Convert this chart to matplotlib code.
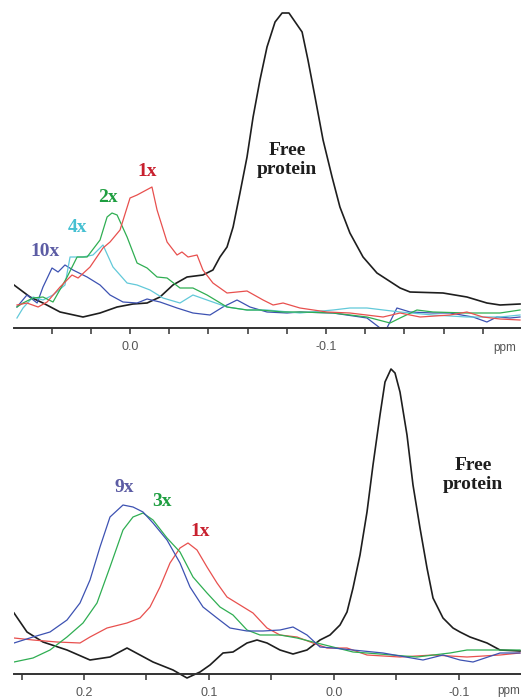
import matplotlib
matplotlib.use("Agg")
import matplotlib.pyplot as plt

# ---- top spectrum (ppm, intensity a.u.) ----
top_free_ppm = [0.0592, 0.0510, 0.0444, 0.0357, 0.0240, 0.0153, 0.0066, -0.0015, -0.0087, -0.0153,
                -0.0219, -0.0291, -0.0372, -0.0423, -0.0459, -0.0495, -0.0526, -0.0561, -0.0597, -0.0628,
                -0.0663, -0.0699, -0.0740, -0.0776, -0.0811, -0.0878, -0.0908, -0.0944, -0.0985, -0.1031,
                -0.1071, -0.1122, -0.1189, -0.1260, -0.1378, -0.1429, -0.1597, -0.1719, -0.1821, -0.1888,
                -0.1990]
top_free = [43, 31, 25, 16, 11, 15, 21, 24, 25, 31,
            43, 51, 53, 58, 71, 81, 101, 135, 171, 211,
            248, 281, 306, 315, 315, 296, 268, 231, 188, 151,
            121, 95, 71, 55, 40, 36, 35, 31, 25, 23,
            24]

top_1x_ppm = [0.0577, 0.0526, 0.0469, 0.0423, 0.0357, 0.0296, 0.0265, 0.0204, 0.0138, 0.0102,
              0.0051, 0.0, -0.0036, -0.0112, -0.0138, -0.0189, -0.0240, -0.0265, -0.0296, -0.0342,
              -0.0372, -0.0423, -0.0495, -0.0597, -0.0679, -0.0730, -0.0781, -0.0867, -0.1005, -0.1122,
              -0.1291, -0.1378, -0.1480, -0.1633, -0.1719, -0.1801, -0.1888, -0.1990]
top_1x = [23, 25, 21, 26, 41, 53, 50, 61, 80, 86,
          98, 130, 133, 141, 118, 86, 73, 76, 71, 73,
          58, 45, 35, 37, 28, 23, 25, 20, 16, 15,
          11, 15, 11, 13, 16, 11, 9, 8]

top_2x_ppm = [0.0577, 0.0546, 0.0495, 0.0444, 0.0393, 0.0321, 0.0270, 0.0219, 0.0153, 0.0117,
              0.0092, 0.0066, 0.0015, -0.0036, -0.0087, -0.0138, -0.0189, -0.0255, -0.0321, -0.0393,
              -0.0495, -0.0597, -0.0663, -0.0781, -0.0867, -0.1036, -0.1209, -0.1327, -0.1378, -0.1464,
              -0.1546, -0.1719, -0.1888, -0.1990]
top_2x = [21, 25, 30, 31, 26, 51, 71, 71, 88, 111,
          115, 113, 91, 65, 60, 51, 50, 40, 40, 33,
          21, 18, 18, 16, 16, 15, 11, 5, 10, 18,
          16, 15, 15, 18]

top_4x_ppm = [0.0577, 0.0546, 0.0495, 0.0444, 0.0393, 0.0332, 0.0306, 0.0240, 0.0189, 0.0138,
              0.0087, 0.0015, -0.0036, -0.0102, -0.0168, -0.0255, -0.0321, -0.0393, -0.0495, -0.0597,
              -0.0699, -0.0867, -0.1036, -0.1122, -0.1209, -0.1378, -0.1546, -0.1719, -0.1888, -0.1990]
top_4x = [10, 20, 31, 28, 33, 43, 71, 71, 73, 83,
          61, 45, 43, 38, 30, 25, 33, 28, 21, 18,
          18, 15, 18, 20, 20, 16, 13, 11, 11, 13]

top_10x_ppm = [0.0577, 0.0526, 0.0474, 0.0444, 0.0398, 0.0367, 0.0332, 0.0291, 0.0219, 0.0153,
               0.0102, 0.0036, -0.0036, -0.0087, -0.0153, -0.0240, -0.0321, -0.0408, -0.0474, -0.0546,
               -0.0612, -0.0699, -0.0801, -0.0867, -0.1036, -0.1209, -0.1276, -0.1311, -0.1362, -0.1429,
               -0.1546, -0.1633, -0.1750, -0.1821, -0.1872, -0.1939, -0.1990]
top_10x = [21, 33, 25, 41, 60, 56, 63, 58, 51, 43,
           33, 26, 25, 29, 26, 20, 15, 13, 21, 28,
           21, 16, 15, 16, 15, 10, 0, 0, 20, 16,
           15, 15, 11, 6, 11, 10, 11]

# ---- bottom spectrum ----
bot_free_ppm = [0.256, 0.2456, 0.2328, 0.2136, 0.1952, 0.1792, 0.1656, 0.1552, 0.1448, 0.1288,
                0.1176, 0.1072, 0.0992, 0.0888, 0.0808, 0.0696, 0.0616, 0.0536, 0.0432, 0.0328,
                0.0216, 0.0112, 0.0032, -0.0048, -0.0104, -0.0152, -0.0208, -0.0264, -0.0312, -0.0368,
                -0.0408, -0.0456, -0.0488, -0.0528, -0.0584, -0.0632, -0.0688, -0.0744, -0.0792, -0.0872,
                -0.0952, -0.1008, -0.1088, -0.1224, -0.1328, -0.1488]
bot_free = [61, 42, 32, 24, 14, 17, 26, 19, 12, 4,
            -4, 2, 9, 21, 22, 31, 34, 31, 24, 20,
            24, 34, 39, 49, 62, 86, 119, 162, 209, 259,
            292, 305, 301, 282, 239, 189, 146, 106, 76, 56,
            46, 42, 37, 31, 24, 23]

bot_9x_ppm = [0.256, 0.2408, 0.2272, 0.2136, 0.2032, 0.1952, 0.1872, 0.1792, 0.1688, 0.1608,
              0.1528, 0.1448, 0.1336, 0.1232, 0.1152, 0.1048, 0.0936, 0.0832, 0.0696, 0.0568,
              0.0432, 0.0328, 0.0216, 0.0112, 0.0008, -0.0152, -0.0392, -0.0712, -0.0872, -0.1008,
              -0.1112, -0.1328, -0.1488]
bot_9x = [31, 37, 42, 54, 71, 94, 127, 157, 169, 167,
          162, 151, 134, 111, 87, 67, 56, 46, 43, 43,
          44, 47, 39, 27, 26, 24, 21, 14, 19, 14,
          12, 21, 21]

bot_3x_ppm = [0.256, 0.2408, 0.2272, 0.2136, 0.2008, 0.1896, 0.1792, 0.1688, 0.1608, 0.1528,
              0.1448, 0.1336, 0.1232, 0.1128, 0.1016, 0.0912, 0.0808, 0.0696, 0.0592, 0.0432,
              0.0296, 0.0168, 0.0008, -0.0152, -0.0264, -0.0664, -0.0928, -0.1064, -0.1488]
bot_3x = [12, 16, 24, 37, 51, 71, 107, 144, 157, 161,
          154, 136, 122, 97, 81, 67, 59, 44, 39, 39,
          36, 32, 27, 22, 21, 17, 21, 24, 24]

bot_1x_ppm = [0.256, 0.2408, 0.2216, 0.2032, 0.1952, 0.1816, 0.1656, 0.1552, 0.1472, 0.1392,
              0.1312, 0.1232, 0.1168, 0.1096, 0.1016, 0.0936, 0.0856, 0.0752, 0.0648, 0.0536,
              0.0432, 0.0296, 0.0168, 0.0056, -0.0104, -0.0264, -0.0528, -0.0792, -0.1064, -0.1328,
              -0.1488]
bot_1x = [36, 34, 32, 31, 37, 46, 51, 56, 67, 87,
          111, 126, 131, 124, 107, 91, 77, 69, 61, 46,
          39, 37, 31, 26, 26, 19, 17, 19, 17, 19,
          21]

top_ticks = [0.04, 0.02, 0.0, -0.02, -0.04, -0.06, -0.08, -0.10, -0.12, -0.14, -0.16, -0.18]
top_labels = ['', '', '0.0', '', '', '', '', '-0.1', '', '', '', '']
bot_ticks = [0.25, 0.20, 0.15, 0.10, 0.05, 0.0, -0.05, -0.10]
bot_labels = ['', '0.2', '', '0.1', '', '0.0', '', '-0.1']

RED, GREEN, CYAN, BLUE, BLACK = '#e8504e', '#2fae52', '#62c9d9', '#3d52b2', '#1e1e1e'
lab_font = dict(family='Liberation Serif', fontweight='bold', fontsize=14)
TICK_COL = '#555555'

fig = plt.figure(figsize=(5.21, 7.00), dpi=100)
W, H = 521.0, 700.0
ax1 = fig.add_axes([14 / W, (H - 332) / H, 507 / W, 332 / H])
ax2 = fig.add_axes([14 / W, (H - 680) / H, 507 / W, 320 / H])


def style(ax, ticks, labels):
    for s in ['top', 'right', 'left']:
        ax.spines[s].set_visible(False)
    ax.spines['bottom'].set_position(('data', 0))
    ax.spines['bottom'].set_color('#333333')
    ax.spines['bottom'].set_linewidth(1.4)
    ax.set_yticks([])
    ax.set_xticks(ticks)
    ax.set_xticklabels(labels)
    ax.tick_params(axis='x', direction='out', length=4, width=1.1, color='#333333',
                   labelsize=9, labelcolor=TICK_COL, pad=5)
    for t in ax.get_xticklabels():
        t.set_family('Liberation Sans')
    ax.patch.set_alpha(0)


lw = 0.9
ax1.plot(top_free_ppm, top_free, color=BLACK, lw=1.2)
ax1.plot(top_10x_ppm, top_10x, color=BLUE, lw=lw)
ax1.plot(top_4x_ppm, top_4x, color=CYAN, lw=lw)
ax1.plot(top_2x_ppm, top_2x, color=GREEN, lw=lw)
ax1.plot(top_1x_ppm, top_1x, color=RED, lw=lw)
ax1.set_xlim(0.0592, -0.1995)
ax1.set_ylim(-4, 328)
style(ax1, top_ticks, top_labels)
ax1.text(-0.0087, 156, '1x', color='#c8202e', ha='center', va='center', **lab_font)
ax1.text(0.0112, 130, '2x', color='#1e9e40', ha='center', va='center', **lab_font)
ax1.text(0.0270, 100, '4x', color='#45c0d2', ha='center', va='center', **lab_font)
ax1.text(0.0434, 76, '10x', color='#5c5ca4', ha='center', va='center', **lab_font)
ax1.text(-0.0801, 168, 'Free\nprotein', color='#1e1e1e', ha='center', va='center',
         linespacing=1.15, **lab_font)

ax2.plot(bot_free_ppm, bot_free, color=BLACK, lw=1.2)
ax2.plot(bot_1x_ppm, bot_1x, color=RED, lw=lw)
ax2.plot(bot_3x_ppm, bot_3x, color=GREEN, lw=lw)
ax2.plot(bot_9x_ppm, bot_9x, color=BLUE, lw=lw)
ax2.set_xlim(0.256, -0.1496)
ax2.set_ylim(-6, 314)
style(ax2, bot_ticks, bot_labels)
ax2.text(0.168, 186, '9x', color='#5c5ca4', ha='center', va='center', **lab_font)
ax2.text(0.1376, 172, '3x', color='#1e9e40', ha='center', va='center', **lab_font)
ax2.text(0.1072, 143, '1x', color='#c8202e', ha='center', va='center', **lab_font)
ax2.text(-0.1112, 199, 'Free\nprotein', color='#1e1e1e', ha='center', va='center',
         linespacing=1.15, **lab_font)

# ppm unit labels placed in figure pixels next to the tick labels
fig.text(505 / W, 1 - 348 / H, 'ppm', ha='center', va='center', fontsize=8.5,
         color=TICK_COL, family='Liberation Sans')
fig.text(509 / W, 1 - 691 / H, 'ppm', ha='center', va='center', fontsize=8.5,
         color=TICK_COL, family='Liberation Sans')

fig.savefig('out.png', dpi=100)
